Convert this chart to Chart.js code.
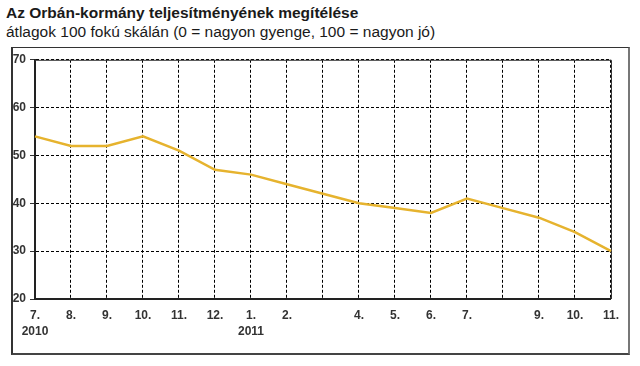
<!DOCTYPE html>
<html>
<head>
<meta charset="utf-8">
<script src="https://cdn.jsdelivr.net/npm/chart.js@4/dist/chart.umd.min.js"></script>
<style>
  html, body { margin: 0; padding: 0; background: #fff; }
  body { width: 640px; height: 366px; position: relative; overflow: hidden; font-family: Arial, "Liberation Sans", sans-serif; }
  #title { position: absolute; left: 6px; top: 4px; font-weight: bold; font-size: 15.5px; color: #1a1a1a; white-space: nowrap; }
  #subtitle { position: absolute; left: 6px; top: 23px; font-size: 15.5px; color: #1a1a1a; white-space: nowrap; }
  #frame { position: absolute; left: 11px; top: 47px; width: 619px; height: 308px; box-sizing: border-box;
           border: 1px solid #333; border-right: 2px solid #777; border-bottom: 2px solid #444; border-left: 2px solid #333; }
  #c { position: absolute; left: 12px; top: 48px; }
</style>
</head>
<body>
<div id="title">Az Orbán-kormány teljesítményének megítélése</div>
<div id="subtitle">átlagok 100 fokú skálán (0 = nagyon gyenge, 100 = nagyon jó)</div>
<div id="frame"></div>
<canvas id="c" width="616" height="305"></canvas>
<script>
// Month labels (empty = no label shown, but grid line kept)
const months = ['7.', '8.', '9.', '10.', '11.', '12.', '1.', '2.', '', '4.', '5.', '6.', '7.', '', '9.', '10.', '11.'];
const years  = ['2010', '', '', '', '', '', '2011', '', '', '', '', '', '', '', '', '', ''];
// Average rating on a 0-100 scale
const values = [54, 52, 52, 54, 51, 47, 46, 44, 42, 40, 39, 38, 41, 39, 37, 34, 30];
const yTicks = [20, 30, 40, 50, 60, 70];

const labels = months.map((m, i) => years[i] ? [m, years[i]] : m);

const plotFrame = {
  id: 'plotFrame',
  beforeDatasetsDraw(chart) {
    const { ctx, chartArea: a } = chart;
    ctx.save();
    ctx.strokeStyle = '#333';
    ctx.lineWidth = 1;
    ctx.setLineDash([]);
    ctx.beginPath();
    ctx.moveTo(a.left, a.top + 0.5);
    ctx.lineTo(a.right + 0.5, a.top + 0.5);
    ctx.lineTo(a.right + 0.5, a.bottom);
    ctx.stroke();
    ctx.restore();
  }
};

const tickFont = { family: 'Arial, "Liberation Sans", sans-serif', size: 12, weight: 'bold', lineHeight: 1.3 };

new Chart(document.getElementById('c'), {
  type: 'line',
  data: {
    labels: labels,
    datasets: [{
      data: values,
      borderColor: '#e6b32e',
      borderWidth: 2.5,
      pointRadius: 0,
      tension: 0,
      fill: false
    }]
  },
  options: {
    responsive: false,
    animation: false,
    devicePixelRatio: 1,
    layout: { padding: { top: 10, right: 14, left: 0, bottom: 0 } },
    plugins: { legend: { display: false }, tooltip: { enabled: false }, title: { display: false } },
    scales: {
      x: {
        type: 'category',
        offset: false,
        grid: { color: '#000', lineWidth: 1, drawTicks: false, offset: false },
        border: { display: true, color: '#222', width: 2, dash: [3, 2] },
        ticks: { autoSkip: false, maxRotation: 0, minRotation: 0, color: '#333', font: tickFont, padding: 9 },
        afterFit(scale) { scale.height = 54; }
      },
      y: {
        min: 20, max: 70,
        afterBuildTicks(scale) { scale.ticks = yTicks.map(v => ({ value: v })); },
        grid: { color: '#000', lineWidth: 1, drawTicks: true, tickLength: 5, tickColor: '#333', tickBorderDash: [] },
        border: { display: true, color: '#222', width: 2, dash: [3, 2] },
        ticks: { color: '#333', font: tickFont, padding: 4 },
        afterFit(scale) { scale.width = 23; }
      }
    }
  },
  plugins: [plotFrame]
});
</script>
</body>
</html>
